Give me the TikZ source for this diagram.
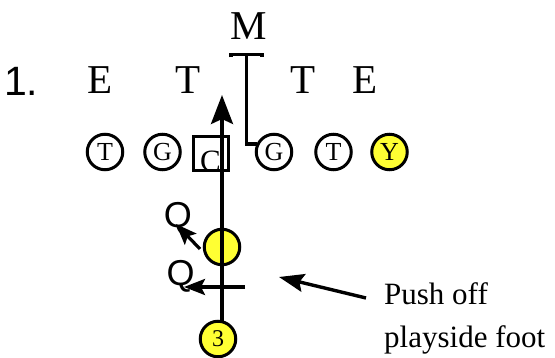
\documentclass[tikz,border=0pt]{standalone}
\usepackage{fontspec}
\setmainfont{Liberation Serif}
\newfontfamily\arialfont{Liberation Sans}
\usetikzlibrary{arrows.meta}
\definecolor{playyellow}{RGB}{255,255,51}
\begin{document}
\begin{tikzpicture}[x=1pt,y=-1pt,
  bigletter/.style={anchor=base,inner sep=0pt,font=\fontsize{41}{48}\selectfont},
  player/.style={circle,draw,line width=3pt,minimum size=35.5pt,inner sep=0pt,font=\fontsize{26}{30}\selectfont},
  yplayer/.style={player,fill=playyellow},
  qletter/.style={inner sep=0pt,font=\arialfont\fontsize{36}{40}\selectfont},
  route/.style={line width=3.4pt},
  qarrow/.style={line width=3.2pt,-{Stealth[length=21pt,width=16pt,inset=4pt]}},
  notetext/.style={anchor=base west,inner sep=0pt,font=\fontsize{31}{36}\selectfont}]
\useasboundingbox (0,0) rectangle (555,358);

% number
\node[anchor=base west,inner sep=0pt,font=\arialfont\fontsize{41}{46}\selectfont] (num) at (4,96) {1.};

% defensive front
\node[bigletter] (E1) at (100,94) {E};
\node[bigletter] (T1) at (188.5,94) {T};
\node[bigletter] (T2) at (303.5,94) {T};
\node[bigletter] (E2) at (365,94) {E};
\node[bigletter] (M) at (249,40) {M};

% offensive line
\node[player] (LT) at (105,152) {T};
\node[player] (LG) at (162.5,152) {G};
\node[draw,line width=3pt,minimum width=35pt,minimum height=34pt,inner sep=0pt] (Cbox) at (211,153.5) {};
\node[anchor=base,inner sep=0pt,font=\fontsize{31}{36}\selectfont] (Clab) at (210.5,172) {C};
\node[player] (RG) at (274,152) {G};
\node[player] (RT) at (333.5,152) {T};
\node[yplayer] (Y) at (389.5,152) {Y};

% backs
\node[yplayer] (ball) at (222,247) {};
\node[yplayer,font=\fontsize{24}{28}\selectfont] (B3) at (218,339) {3};

% M block
\coordinate (barL) at (231,54.5);
\coordinate (barR) at (262,54.5);
\coordinate (barM) at (246.5,54.5);
\draw[route] ([yshift=-3pt]barL) -- (barL) -- (barR) -- ([yshift=-3pt]barR);
\draw[route] (barM) |- (RG.155);

% run path
\coordinate (runstart) at (222,321);
\coordinate (runtip) at (222,95);
\draw[route,-{Stealth[length=29pt,width=22pt,inset=5pt]}] (runstart) -- (runtip);

% Q reads
\node[qletter] (Q1) at (178,218) {Q};
\node[qletter] (Q2) at (180.5,276) {Q};
\coordinate (q1start) at (200,249);
\coordinate (q1tip) at (176,224);
\draw[qarrow] (q1start) -- (q1tip);
\coordinate (q2start) at (245,287);
\coordinate (q2tip) at (184,287);
\draw[qarrow] (q2start) -- (q2tip);

% note
\node[notetext] (note1) at (384,305) {Push off};
\node[notetext] (note2) at (384,348) {playside foot};
\coordinate (ptip) at (279,277);
\coordinate (pstart) at (366,298);
\draw[line width=3.4pt,-{Stealth[length=25pt,width=18pt,inset=4pt]}] (pstart) -- (ptip);
\end{tikzpicture}
\end{document}
